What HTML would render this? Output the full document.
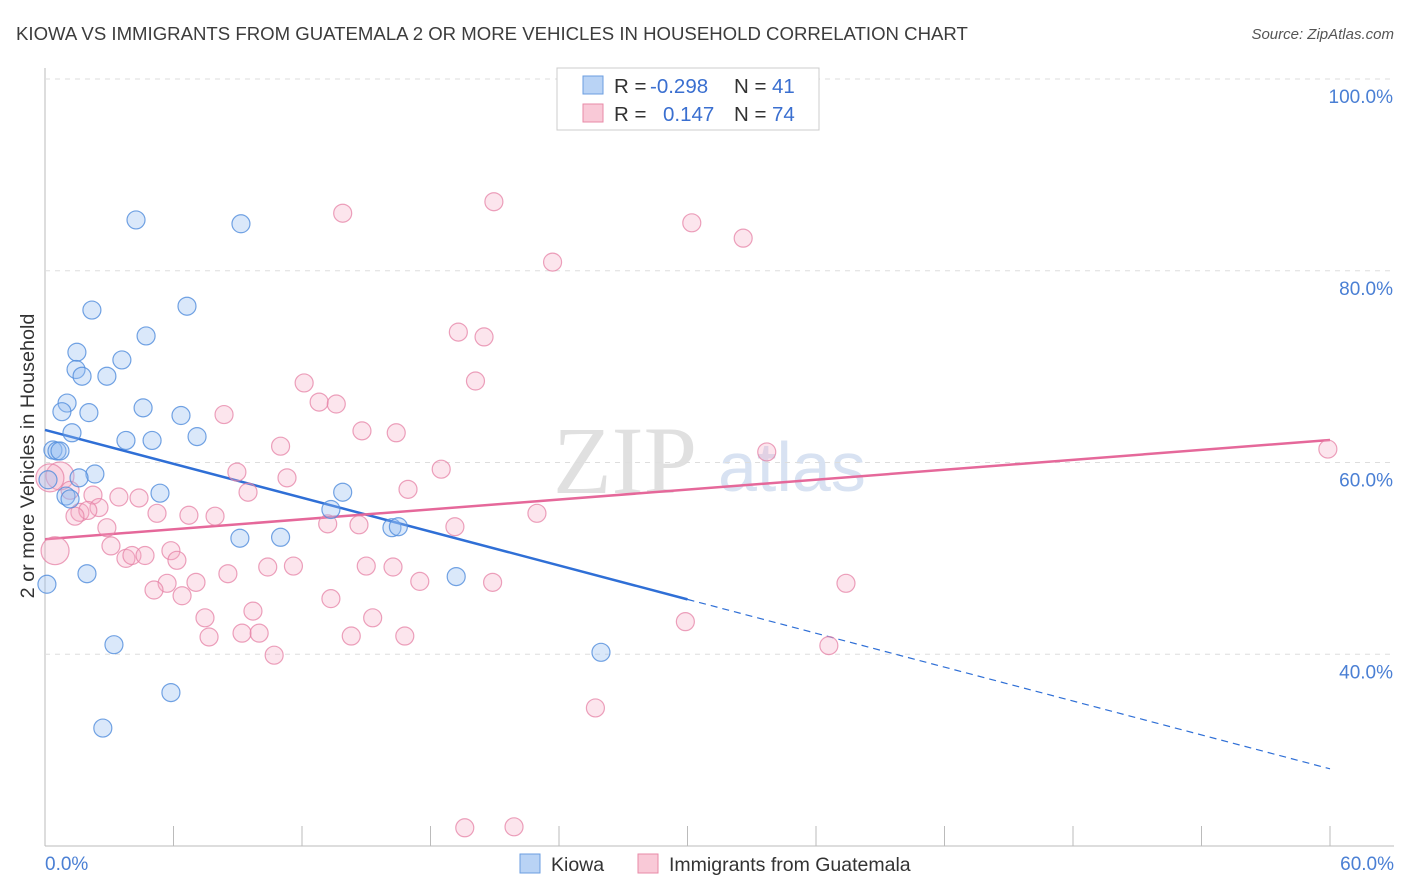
<!DOCTYPE html>
<html><head><meta charset="utf-8">
<style>
body{margin:0;background:#fff;font-family:"Liberation Sans",sans-serif;}
#wrap{position:relative;width:1406px;height:892px;overflow:hidden;}
</style></head>
<body>
<div id="wrap">
<svg id="chart" width="1406" height="892" xmlns="http://www.w3.org/2000/svg">
<text x="16" y="40" font-size="18.6" fill="#3c3c3c">KIOWA VS IMMIGRANTS FROM GUATEMALA 2 OR MORE VEHICLES IN HOUSEHOLD CORRELATION CHART</text>
<text x="1394" y="39" font-size="15" fill="#555" font-style="italic" text-anchor="end">Source: ZipAtlas.com</text>
<text x="34" y="456" font-size="19.8" fill="#333" text-anchor="middle" transform="rotate(-90 34 456)">2 or more Vehicles in Household</text>
<g>
<text x="553" y="493" font-size="96" font-family="Liberation Serif, serif" fill="#ddd" opacity="0.9">ZIP</text>
<text x="718" y="491" font-size="70" fill="#cfdcef" opacity="0.8">atlas</text>
</g>
<g id="grid"></g>
<g id="trend"></g>
<g id="pts"></g>
<g>
<rect x="557" y="68" width="262" height="62" fill="#fff" stroke="#ccc"/>
<rect x="583" y="76" width="20" height="18" fill="#b9d3f5" stroke="#6b9ee0"/>
<rect x="583" y="104" width="20" height="18" fill="#f9c9d7" stroke="#e88aa7"/>
<text x="614" y="93" font-size="20.5" fill="#333">R = </text><text x="650" y="93" font-size="20.5" fill="#3a6fd0">-0.298</text>
<text x="734" y="93" font-size="20.5" fill="#333">N = </text><text x="772" y="93" font-size="20.5" fill="#3a6fd0">41</text>
<text x="614" y="121" font-size="20.5" fill="#333">R = </text><text x="663" y="121" font-size="20.5" fill="#3a6fd0">0.147</text>
<text x="734" y="121" font-size="20.5" fill="#333">N = </text><text x="772" y="121" font-size="20.5" fill="#3a6fd0">74</text>
</g>
<g>
<rect x="520" y="854" width="20" height="19" fill="#b9d3f5" stroke="#6b9ee0"/>
<text x="551" y="871" font-size="19.5" fill="#333">Kiowa</text>
<rect x="638" y="854" width="20" height="19" fill="#f9c9d7" stroke="#e88aa7"/>
<text x="669" y="871" font-size="19.5" fill="#333">Immigrants from Guatemala</text>
</g>
</svg>
</div>
<script>
const blueX=[4.25,9.15,2.19,6.63,4.72,1.49,3.59,1.45,1.73,2.89,1.03,0.79,2.05,4.58,6.35,1.26,7.1,3.78,5.0,0.37,0.56,0.7,2.33,1.59,0.14,0.98,1.17,5.37,13.9,13.35,16.2,16.5,9.1,11.0,1.96,19.2,0.09,3.22,25.96,5.88,2.7];
const blueY=[85.3,84.9,75.9,76.3,73.2,71.5,70.7,69.7,69.0,69.0,66.2,65.3,65.2,65.7,64.9,63.1,62.7,62.3,62.3,61.3,61.2,61.2,58.8,58.4,58.2,56.5,56.2,56.8,56.9,55.1,53.2,53.3,52.1,52.2,48.4,48.1,47.3,41.0,40.2,36.0,32.3];
const pinkX=[13.9,20.96,30.2,32.6,23.7,19.3,20.5,12.1,20.1,12.8,13.6,8.36,14.8,16.4,11.0,33.7,59.9,8.96,18.5,11.3,0.7,0.23,9.48,16.95,2.24,3.45,4.39,1.17,2.52,1.63,2.0,1.4,5.23,6.72,7.94,22.97,2.89,13.2,14.66,19.14,3.08,0.47,3.78,4.06,4.67,5.88,6.16,10.4,11.6,15.0,16.25,8.54,5.7,7.05,17.5,20.9,37.4,5.09,6.4,13.35,9.71,7.47,15.3,29.9,7.66,9.2,10.0,14.3,16.8,36.6,10.7,25.7,19.6,21.9];
const pinkY=[86.0,87.2,85.0,83.4,80.9,73.6,73.1,68.3,68.5,66.3,66.1,65.0,63.3,63.1,61.7,61.1,61.4,59.0,59.3,58.4,58.6,58.4,56.9,57.2,56.6,56.4,56.3,57.1,55.3,54.8,55.0,54.4,54.7,54.5,54.4,54.7,53.2,53.6,53.5,53.3,51.3,50.8,50.0,50.3,50.3,50.8,49.8,49.1,49.2,49.2,49.1,48.4,47.4,47.5,47.6,47.5,47.4,46.7,46.1,45.8,44.5,43.8,43.8,43.4,41.8,42.2,42.2,41.9,41.9,40.9,39.9,34.4,21.9,22.0];
const pinkBig=[20,21,41];
const yTicks=[40,60,80,100];
const xTickLabels=["0.0%","60.0%"];
const blueTrend=[63.4,28.05];
const pinkTrend=[52.0,62.35];
const X=v=>45+v*(1285/60);
const Y=v=>846-(v-20)*(767/80);
const NS="http://www.w3.org/2000/svg";
function mk(t,a,p){const e=document.createElementNS(NS,t);for(const k in a)e.setAttribute(k,a[k]);p.appendChild(e);return e;}
const grid=document.getElementById('grid');
const ax=mk('line',{x1:45,y1:68,x2:45,y2:846,stroke:'#bbb'},grid);


const bx=mk('line',{x1:45,y1:846,x2:1394,y2:846,stroke:'#bbb'},grid);


yTicks.forEach(t=>{
 const l=mk('line',{x1:45,y1:Y(t),x2:1394,y2:Y(t),stroke:'#ddd','stroke-dasharray':'5,5'},grid);
 
 
 const tx=mk('text',{x:1393,y:Y(t)+24,'font-size':19,fill:'#4a7fd4','text-anchor':'end'},grid);
 tx.textContent=t.toFixed(1)+'%';
 
 
});
for(let i=0;i<=10;i++){
 const xx=X(i*6);
 const l=mk('line',{x1:xx,y1:826,x2:xx,y2:846,stroke:'#bbb'},grid);
 
 
}
const xl0=mk('text',{x:45,y:870,'font-size':19,fill:'#4a7fd4'},grid);
xl0.textContent=xTickLabels[0];


const xl1=mk('text',{x:1394,y:870,'font-size':19,fill:'#4a7fd4','text-anchor':'end'},grid);
xl1.textContent=xTickLabels[1];


const pts=document.getElementById('pts');
pinkX.forEach((x,i)=>{
 const big=pinkBig.includes(i);
 const c=mk('circle',{cx:X(x),cy:Y(pinkY[i]),r:big?14:9,fill:'rgba(245,170,195,0.3)',stroke:'rgba(230,130,165,0.75)','stroke-width':1.2},pts);
 
 
});
blueX.forEach((x,i)=>{
 const c=mk('circle',{cx:X(x),cy:Y(blueY[i]),r:9,fill:'rgba(150,190,240,0.35)',stroke:'rgba(80,140,220,0.8)','stroke-width':1.2},pts);
 
 
});
const tr=document.getElementById('trend');
const bAt=v=>blueTrend[0]+(blueTrend[1]-blueTrend[0])*v/60;
const b1=mk('line',{x1:X(0),y1:Y(bAt(0)),x2:X(30),y2:Y(bAt(30)),stroke:'#2f6fd6','stroke-width':2.5},tr);


const b2=mk('line',{x1:X(30),y1:Y(bAt(30)),x2:X(60),y2:Y(bAt(60)),stroke:'#2f6fd6','stroke-width':1.2,'stroke-dasharray':'7,5'},tr);


const p1=mk('line',{x1:X(0),y1:Y(pinkTrend[0]),x2:X(60),y2:Y(pinkTrend[1]),stroke:'#e5689a','stroke-width':2.5},tr);


</script>
</body></html>
